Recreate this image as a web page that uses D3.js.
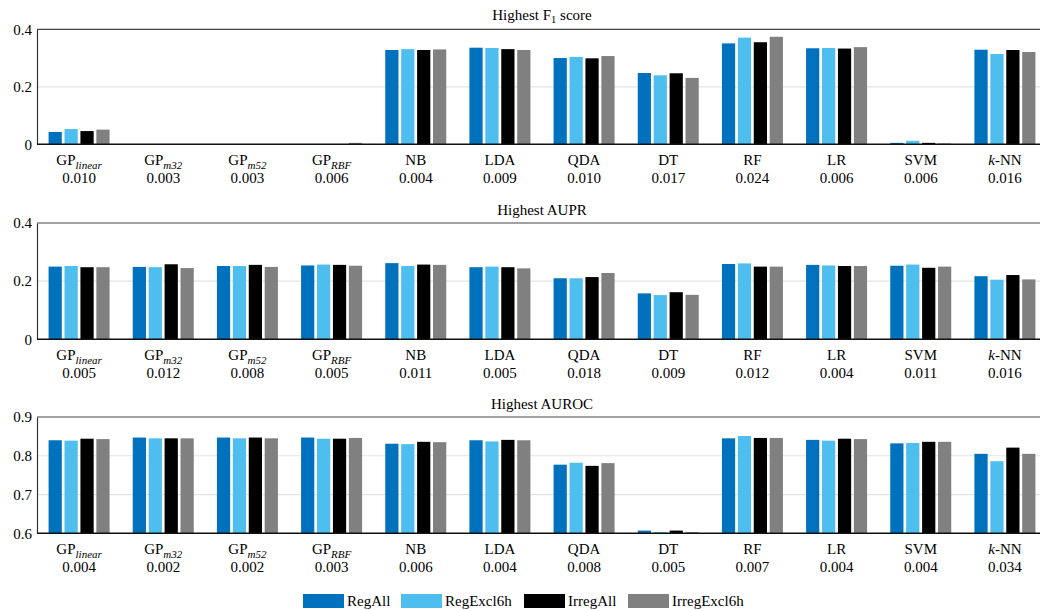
<!DOCTYPE html>
<html>
<head>
<meta charset="utf-8">
<script src="https://cdn.jsdelivr.net/npm/d3@7"></script>
<style>
  body { margin: 0; background: #fff; }
  text { font-family: 'Liberation Serif', 'Times New Roman', serif; fill: #000; }
</style>
</head>
<body>
<div id="chart"></div>
<script>
// Data

const models = ['GPlinear', 'GPm32', 'GPm52', 'GPRBF', 'NB', 'LDA', 'QDA', 'DT', 'RF', 'LR', 'SVM', 'k-NN']
const series = ['RegAll', 'RegExcl6h', 'IrregAll', 'IrregExcl6h']
const colors = ['#0072BD', '#4DBEEE', '#000000', '#808080']

// one row per model, one value per series
const f1Values = [
  [0.043, 0.053, 0.046, 0.051],
  [0.001, 0.001, 0.001, 0.001],
  [0.001, 0.001, 0.001, 0.001],
  [0.001, 0.001, 0.001, 0.005],
  [0.328, 0.331, 0.328, 0.330],
  [0.336, 0.335, 0.331, 0.328],
  [0.300, 0.304, 0.299, 0.307],
  [0.248, 0.240, 0.247, 0.231],
  [0.351, 0.371, 0.355, 0.374],
  [0.334, 0.335, 0.333, 0.338],
  [0.005, 0.012, 0.005, 0.003],
  [0.329, 0.314, 0.328, 0.321]
]
const f1Spread = ['0.010', '0.003', '0.003', '0.006', '0.004', '0.009', '0.010', '0.017', '0.024', '0.006', '0.006', '0.016']

const auprValues = [
  [0.250, 0.252, 0.248, 0.248],
  [0.249, 0.248, 0.258, 0.245],
  [0.252, 0.252, 0.256, 0.249],
  [0.254, 0.257, 0.256, 0.253],
  [0.262, 0.252, 0.257, 0.256],
  [0.248, 0.250, 0.248, 0.244],
  [0.210, 0.210, 0.214, 0.228],
  [0.158, 0.152, 0.162, 0.153],
  [0.259, 0.261, 0.250, 0.250],
  [0.256, 0.254, 0.252, 0.252],
  [0.253, 0.257, 0.246, 0.250],
  [0.217, 0.205, 0.221, 0.206]
]
const auprSpread = ['0.005', '0.012', '0.008', '0.005', '0.011', '0.005', '0.018', '0.009', '0.012', '0.004', '0.011', '0.016']

const aurocValues = [
  [0.840, 0.839, 0.844, 0.843],
  [0.847, 0.845, 0.845, 0.845],
  [0.847, 0.845, 0.847, 0.845],
  [0.847, 0.844, 0.844, 0.846],
  [0.831, 0.830, 0.836, 0.835],
  [0.840, 0.837, 0.841, 0.840],
  [0.777, 0.782, 0.774, 0.781],
  [0.607, 0.603, 0.607, 0.603],
  [0.845, 0.851, 0.846, 0.846],
  [0.841, 0.839, 0.844, 0.843],
  [0.832, 0.833, 0.836, 0.836],
  [0.805, 0.786, 0.821, 0.805]
]
const aurocSpread = ['0.004', '0.002', '0.002', '0.003', '0.006', '0.004', '0.008', '0.005', '0.007', '0.004', '0.004', '0.034']

const f1Ticks = [0, 0.2, 0.4]
const auprTicks = [0, 0.2, 0.4]
const aurocTicks = [0.6, 0.7, 0.8, 0.9]

// how each model name is typeset: base text + italic subscript
const labelParts = {
  GPlinear: ['GP', 'linear'],
  GPm32: ['GP', 'm32'],
  GPm52: ['GP', 'm52'],
  GPRBF: ['GP', 'RBF'],
  'k-NN': ['k', '-NN']
}

const width = 1040
const height = 610
const plotLeft = 37
const plotRight = 1047

var svg = d3
  .select('#chart')
  .append('svg')
  .attr('width', width)
  .attr('height', height)

svg
  .append('defs')
  .append('clipPath')
  .attr('id', 'page-clip')
  .append('rect')
  .attr('width', width)
  .attr('height', height)

var root = svg.append('g').attr('clip-path', 'url(#page-clip)')

var xScale = d3
  .scaleBand()
  .domain(models)
  .range([plotLeft, plotRight])

var innerScale = d3
  .scaleBand()
  .domain(series)
  .range([0, 61])
  .paddingInner(0.17)

const panels = [
  { title: 'F1', values: f1Values, spread: f1Spread, ticks: f1Ticks, domain: [0, 0.4], top: 29.3, bottom: 144.3, titleY: 20 },
  { title: 'AUPR', values: auprValues, spread: auprSpread, ticks: auprTicks, domain: [0, 0.4], top: 223, bottom: 339.3, titleY: 215 },
  { title: 'AUROC', values: aurocValues, spread: aurocSpread, ticks: aurocTicks, domain: [0.6, 0.9], top: 417, bottom: 533.3, titleY: 409 }
]

panels.forEach(function(p) {
  var g = root.append('g')

  var yScale = d3
    .scaleLinear()
    .domain(p.domain)
    .range([p.bottom, p.top])

  // grid lines
  g.selectAll('.grid')
    .data(p.ticks.slice(1, -1))
    .enter()
    .append('line')
    .attr('x1', plotLeft)
    .attr('x2', plotRight)
    .attr('y1', d => yScale(d))
    .attr('y2', d => yScale(d))
    .attr('stroke', '#e3e3e3')
    .attr('stroke-width', 1.2)

  // bars
  var groups = g.selectAll('.group')
    .data(p.values)
    .enter()
    .append('g')
    .attr('transform', (d, i) => 'translate(' + (xScale(models[i]) + xScale.bandwidth() / 2 - 30.5) + ',0)')

  groups.selectAll('rect')
    .data(d => d)
    .enter()
    .append('rect')
    .attr('x', (d, j) => innerScale(series[j]))
    .attr('width', innerScale.bandwidth())
    .attr('y', d => yScale(d))
    .attr('height', d => p.bottom - yScale(d))
    .attr('fill', (d, j) => colors[j])

  // frame: left, top, bottom
  const yAxis = d3.axisLeft(yScale)
    .tickValues(p.ticks)
    .tickSize(0)
    .tickPadding(5)
    .tickFormat(d => d === 0 ? '0' : d3.format('.1f')(d))
  var ya = g.append('g')
    .attr('transform', 'translate(' + plotLeft + ',0)')
    .call(yAxis)
    .attr('font-family', null)
    .attr('font-size', null)
  ya.select('.domain').attr('stroke', '#333').attr('stroke-width', 1.2)
  ya.selectAll('text')
    .style('font-family', "'Liberation Serif', serif")
    .style('font-size', '15px')
    .attr('fill', '#000')

  g.append('line')
    .attr('x1', plotLeft).attr('x2', plotRight)
    .attr('y1', p.top).attr('y2', p.top)
    .attr('stroke', '#444').attr('stroke-width', 1.2)
  g.append('line')
    .attr('x1', plotLeft).attr('x2', plotRight)
    .attr('y1', p.bottom).attr('y2', p.bottom)
    .attr('stroke', '#111').attr('stroke-width', 1.6)

  // title
  var t = g.append('text')
    .attr('x', 542)
    .attr('y', p.titleY)
    .attr('text-anchor', 'middle')
    .style('font-size', '15px')
  if (p.title === 'F1') {
    t.append('tspan').text('Highest F')
    t.append('tspan').attr('dy', 3).style('font-size', '10.5px').text('1')
    t.append('tspan').attr('dy', -3).text(' score')
  } else {
    t.text('Highest ' + p.title)
  }

  // category labels
  models.forEach(function(m, i) {
    var cx = xScale(m) + xScale.bandwidth() / 2
    var lab = g.append('text')
      .attr('x', cx)
      .attr('y', p.bottom + 21)
      .attr('text-anchor', 'middle')
      .style('font-size', '15px')
    var parts = labelParts[m]
    if (parts && m === 'k-NN') {
      lab.append('tspan').style('font-style', 'italic').text(parts[0])
      lab.append('tspan').text(parts[1])
    } else if (parts) {
      lab.append('tspan').text(parts[0])
      lab.append('tspan')
        .attr('dy', 3.5)
        .style('font-size', '11px')
        .style('font-style', 'italic')
        .text(parts[1])
    } else {
      lab.text(m)
    }

    g.append('text')
      .attr('x', cx)
      .attr('y', p.bottom + 39)
      .attr('text-anchor', 'middle')
      .style('font-size', '15px')
      .text(p.spread[i])
  })
})

// Legend
const legendX = [303, 401, 524, 628]
var legend = svg.append('g')
series.forEach(function(s, i) {
  legend.append('rect')
    .attr('x', legendX[i])
    .attr('y', 594)
    .attr('width', 41)
    .attr('height', 14)
    .attr('fill', colors[i])
  legend.append('text')
    .attr('x', legendX[i] + 44)
    .attr('y', 606)
    .style('font-size', '15px')
    .text(s)
})
</script>
</body>
</html>
